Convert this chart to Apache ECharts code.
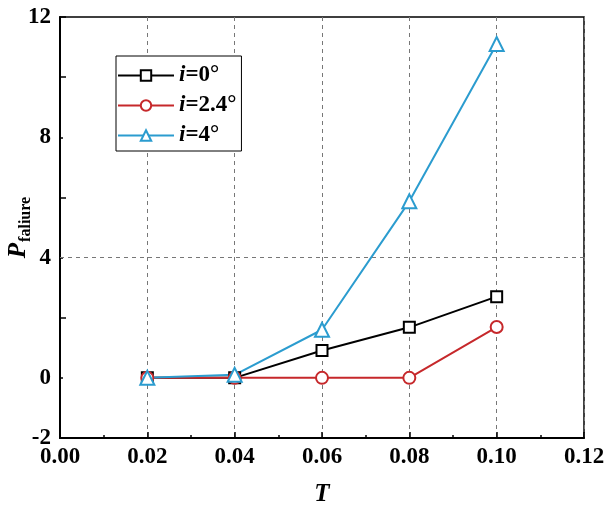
<!DOCTYPE html>
<html>
<head>
<meta charset="utf-8">
<script src="https://cdn.jsdelivr.net/npm/echarts@6/dist/echarts.min.js"></script>
<style>html,body{margin:0;padding:0;background:#fff;}#c{width:606px;height:508px;}</style>
</head>
<body>
<div id="c"></div>
<script>
var xValues = [0.02, 0.04, 0.06, 0.08, 0.10];
var seriesNames = ['i=0°', 'i=2.4°', 'i=4°'];
var valuesI0 = [0, 0, 0.91, 1.68, 2.7];
var valuesI24 = [0, 0, 0, 0, 1.69];
var valuesI4 = [0, 0.1, 1.6, 5.87, 11.1];
var yLabelsShown = [-2, 0, 4, 8, 12];
var hGridValues = [4];

var FONT = '"Liberation Serif", "Times New Roman", serif';
function pairs(v) { return xValues.map(function (x, i) { return [x, v[i]]; }); }

var chart = echarts.init(document.getElementById('c'), null, { renderer: 'canvas' });
function mkSeries(name, vals, color, symbol, size) {
  return {
    name: name, type: 'line', data: pairs(vals), xAxisIndex: 0, yAxisIndex: 0,
    symbol: symbol, symbolSize: size, showSymbol: true,
    lineStyle: { color: color, width: 2 },
    itemStyle: { color: '#fff', borderColor: color, borderWidth: 2 },
    emphasis: { disabled: true }, z: 5
  };
}
var s0 = mkSeries(seriesNames[0], valuesI0, '#000000', 'rect', 11);
var s1 = mkSeries(seriesNames[1], valuesI24, '#c6282b', 'circle', 12);
var s2 = mkSeries(seriesNames[2], valuesI4, '#2b9ccf', 'triangle', 14);
s0.markLine = {
  silent: true, symbol: 'none', label: { show: false },
  lineStyle: { color: '#777', type: [4, 4], width: 1 },
  data: hGridValues.map(function (v) { return { yAxis: v }; })
};

var option = {
  animation: false,
  backgroundColor: '#fff',
  grid: { left: 60, right: 22, top: 17, bottom: 70, containLabel: false, outerBoundsMode: 'none',
    show: true, borderColor: '#000', borderWidth: 1.5, backgroundColor: 'transparent' },
  legend: {
    orient: 'vertical', left: 116, top: 56,
    data: seriesNames,
    itemWidth: 56, itemHeight: 13, itemGap: 7,
    padding: [8, 5, 4, 1],
    borderColor: '#000', borderWidth: 1, backgroundColor: '#fff',
    formatter: function (n) { return '{i|i}{t|' + n.slice(1) + '}'; },
    textStyle: {
      fontFamily: FONT, fontSize: 23, fontWeight: 'bold', color: '#000',
      rich: {
        i: { fontFamily: FONT, fontSize: 23, fontWeight: 'bold', fontStyle: 'italic', color: '#000' },
        t: { fontFamily: FONT, fontSize: 23, fontWeight: 'bold', color: '#000' }
      }
    }
  },
  xAxis: [{
    type: 'value', min: 0, max: 0.12, interval: 0.02,
    name: 'T', nameLocation: 'middle', nameGap: 44, nameMoveOverlap: false,
    nameTextStyle: { fontFamily: FONT, fontSize: 25, fontWeight: 'bold', fontStyle: 'italic', color: '#000' },
    axisLine: { onZero: false, lineStyle: { color: '#000', width: 2 } },
    axisTick: { inside: true, length: 6, lineStyle: { color: '#000', width: 1.5 } },
    minorTick: { show: true, splitNumber: 2, length: 3, lineStyle: { color: '#000', width: 1.5 } },
    splitLine: { show: true, lineStyle: { color: '#777', type: [4, 4], width: 1 } },
    axisLabel: { fontFamily: FONT, fontSize: 23, fontWeight: 'bold', color: '#000', margin: 8,
      formatter: function (v) { return v.toFixed(2); } }
  }],
  yAxis: [{
    type: 'value', min: -2, max: 12, interval: 2,
    name: '{p|P}{s|faliure}', nameLocation: 'middle', nameGap: 26, nameRotate: 90, nameMoveOverlap: false,
    nameTextStyle: {
      rich: {
        p: { fontFamily: FONT, fontSize: 25, fontWeight: 'bold', fontStyle: 'italic', color: '#000' },
        s: { fontFamily: FONT, fontSize: 16, fontWeight: 'bold', color: '#000', padding: [14, 0, 0, 1] }
      }
    },
    axisLine: { onZero: false, lineStyle: { color: '#000', width: 2 } },
    axisTick: { inside: true, length: 3, lineStyle: { color: '#000', width: 1.5 } },
    splitLine: { show: false },
    axisLabel: { fontFamily: FONT, fontSize: 23, fontWeight: 'bold', color: '#000', margin: 9,
      formatter: function (v) { return yLabelsShown.indexOf(v) >= 0 ? String(v) : ''; } }
  }, {
    type: 'value', position: 'left', min: 2, max: 16, interval: 4,
    axisLine: { show: false, onZero: false },
    axisTick: { show: true, inside: true, length: 6, lineStyle: { color: '#000', width: 1.5 } },
    axisLabel: { show: false }, splitLine: { show: false }
  }],
  series: [s0, s1, s2]
};
chart.setOption(option);
</script>
</body>
</html>
